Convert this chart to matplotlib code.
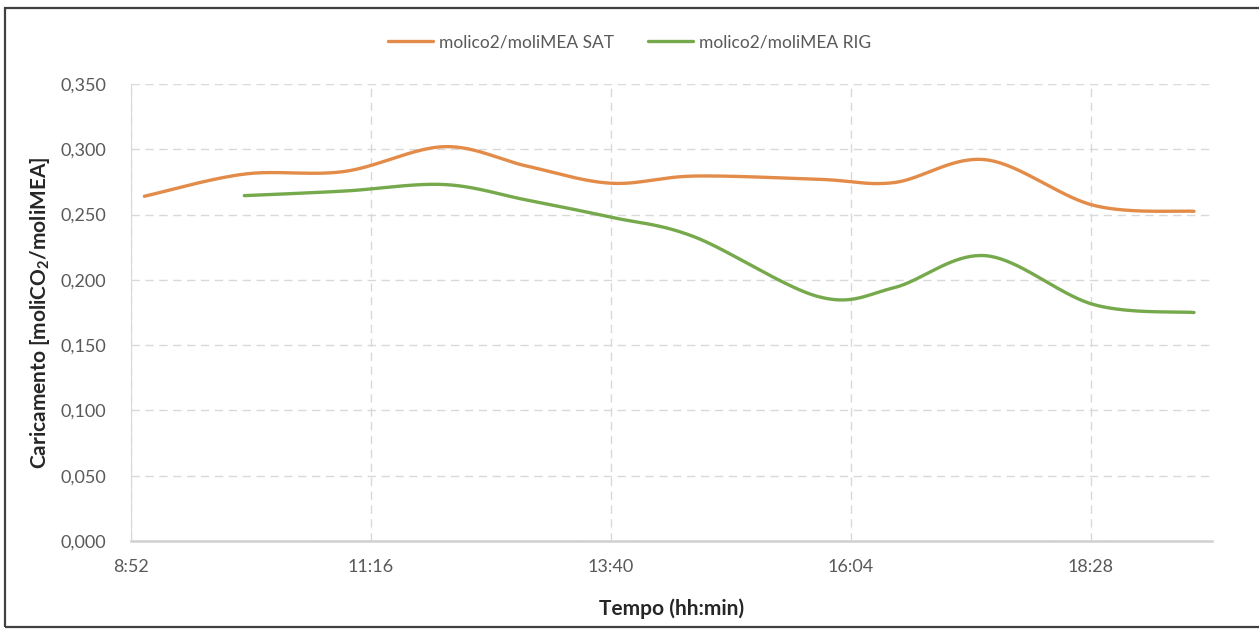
import numpy as np
import matplotlib
matplotlib.use("Agg")
import matplotlib.pyplot as plt
from matplotlib.ticker import FixedLocator, FuncFormatter
from matplotlib.patches import Rectangle

plt.rcParams['font.family'] = ['Lato', 'DejaVu Sans']
plt.rcParams['mathtext.fontset'] = 'custom'
plt.rcParams['mathtext.rm'] = 'Lato'
plt.rcParams['mathtext.bf'] = 'Lato:bold'

# ========================================
# Data
# ========================================
sat_times = ["9:00", "10:00", "11:00", "12:00", "12:50", "13:40", "14:30",
             "15:45", "16:30", "17:25", "18:30", "19:30"]
sat_values = [0.264, 0.281, 0.283, 0.302, 0.287, 0.274, 0.2795,
              0.277, 0.2745, 0.292, 0.257, 0.2525]

rig_times = ["10:00", "11:00", "12:00", "12:50", "13:40", "14:30",
             "15:45", "16:30", "17:25", "18:30", "19:30"]
rig_values = [0.2645, 0.268, 0.273, 0.261, 0.248, 0.233,
              0.187, 0.194, 0.2185, 0.181, 0.175]

series_labels = ["molico2/moliMEA SAT", "molico2/moliMEA RIG"]
series_colors = ["#E38B48", "#75A94C"]

x_ticks = [0.369444 + 0.1 * k for k in range(5)]
y_ticks = [0.0, 0.05, 0.10, 0.15, 0.20, 0.25, 0.30, 0.35]


def to_day(t):
    h, m = t.split(":")
    return (int(h) * 60 + int(m)) / 1440.0


def fmt_time(v, pos=None):
    mins = int(round(v * 1440))
    return f"{mins // 60}:{mins % 60:02d}"


def smooth(xs, ys, n=40):
    # Excel-like smoothed line: cubic bezier with catmull-rom control points
    xs = np.asarray(xs, float)
    ys = np.asarray(ys, float)
    px, py = [], []
    for i in range(len(xs) - 1):
        i0 = max(i - 1, 0)
        i3 = min(i + 2, len(xs) - 1)
        p0 = np.array([xs[i], ys[i]])
        p3 = np.array([xs[i + 1], ys[i + 1]])
        p1 = p0 + (p3 - np.array([xs[i0], ys[i0]])) / 6.0
        p2 = p3 - (np.array([xs[i3], ys[i3]]) - p0) / 6.0
        t = np.linspace(0, 1, n)[:, None]
        pts = ((1 - t) ** 3) * p0 + 3 * ((1 - t) ** 2) * t * p1 + 3 * (1 - t) * t ** 2 * p2 + t ** 3 * p3
        px.extend(pts[:, 0])
        py.extend(pts[:, 1])
    return np.array(px), np.array(py)


# ========================================
# Plot
# ========================================
fig = plt.figure(figsize=(12.59, 6.31), dpi=100)
ax = fig.add_axes([131 / 1259, 1 - 541 / 631, (1212 - 131) / 1259, (541 - 84) / 631])

for times, values, label, color in zip([sat_times, rig_times], [sat_values, rig_values],
                                       series_labels, series_colors):
    sx, sy = smooth([to_day(t) for t in times], values)
    ax.plot(sx, sy, color=color, linewidth=2.4, label=label, solid_capstyle='round')

ax.set_xlim(x_ticks[0], 0.82)
ax.set_ylim(0, 0.35)
ax.xaxis.set_major_locator(FixedLocator(x_ticks))
ax.xaxis.set_major_formatter(FuncFormatter(fmt_time))
ax.yaxis.set_major_locator(FixedLocator(y_ticks))
ax.yaxis.set_major_formatter(FuncFormatter(lambda v, p: f"{v:.3f}".replace(".", ",")))

ax.grid(True, color='#D9D9D9', linestyle=(0, (6, 4)), linewidth=1.0)
ax.set_axisbelow(True)
for side in ['top', 'right']:
    ax.spines[side].set_visible(False)
ax.spines['left'].set_color('#D9D9D9')
ax.spines['bottom'].set_color('#D0D0D0')
ax.spines['bottom'].set_linewidth(1.8)
ax.tick_params(length=0, labelsize=13, labelcolor='#595959')
ax.tick_params(axis='x', pad=13)
ax.tick_params(axis='y', pad=18)

ax.set_xlabel('Tempo (hh:min)', fontsize=15, fontweight='bold', color='#262626', labelpad=17)
ax.set_ylabel(r'Caricamento [moliCO$\mathbf{_2}$/moliMEA]', fontsize=15,
              fontweight='bold', color='#262626', labelpad=6)

fig.legend(loc='center', bbox_to_anchor=(0.5, 1 - 42 / 631), ncol=2, frameon=False,
           fontsize=12.5, labelcolor='#595959', handlelength=2.6, columnspacing=2.0,
           handletextpad=0.3)

# outer frame of the chart area
fig.patches.append(Rectangle((5 / 1259, 4 / 631), 1.2, 1 - 12 / 631, transform=fig.transFigure,
                             fill=False, edgecolor='#404040', linewidth=1.6))

fig.savefig('out.png', dpi=100)
